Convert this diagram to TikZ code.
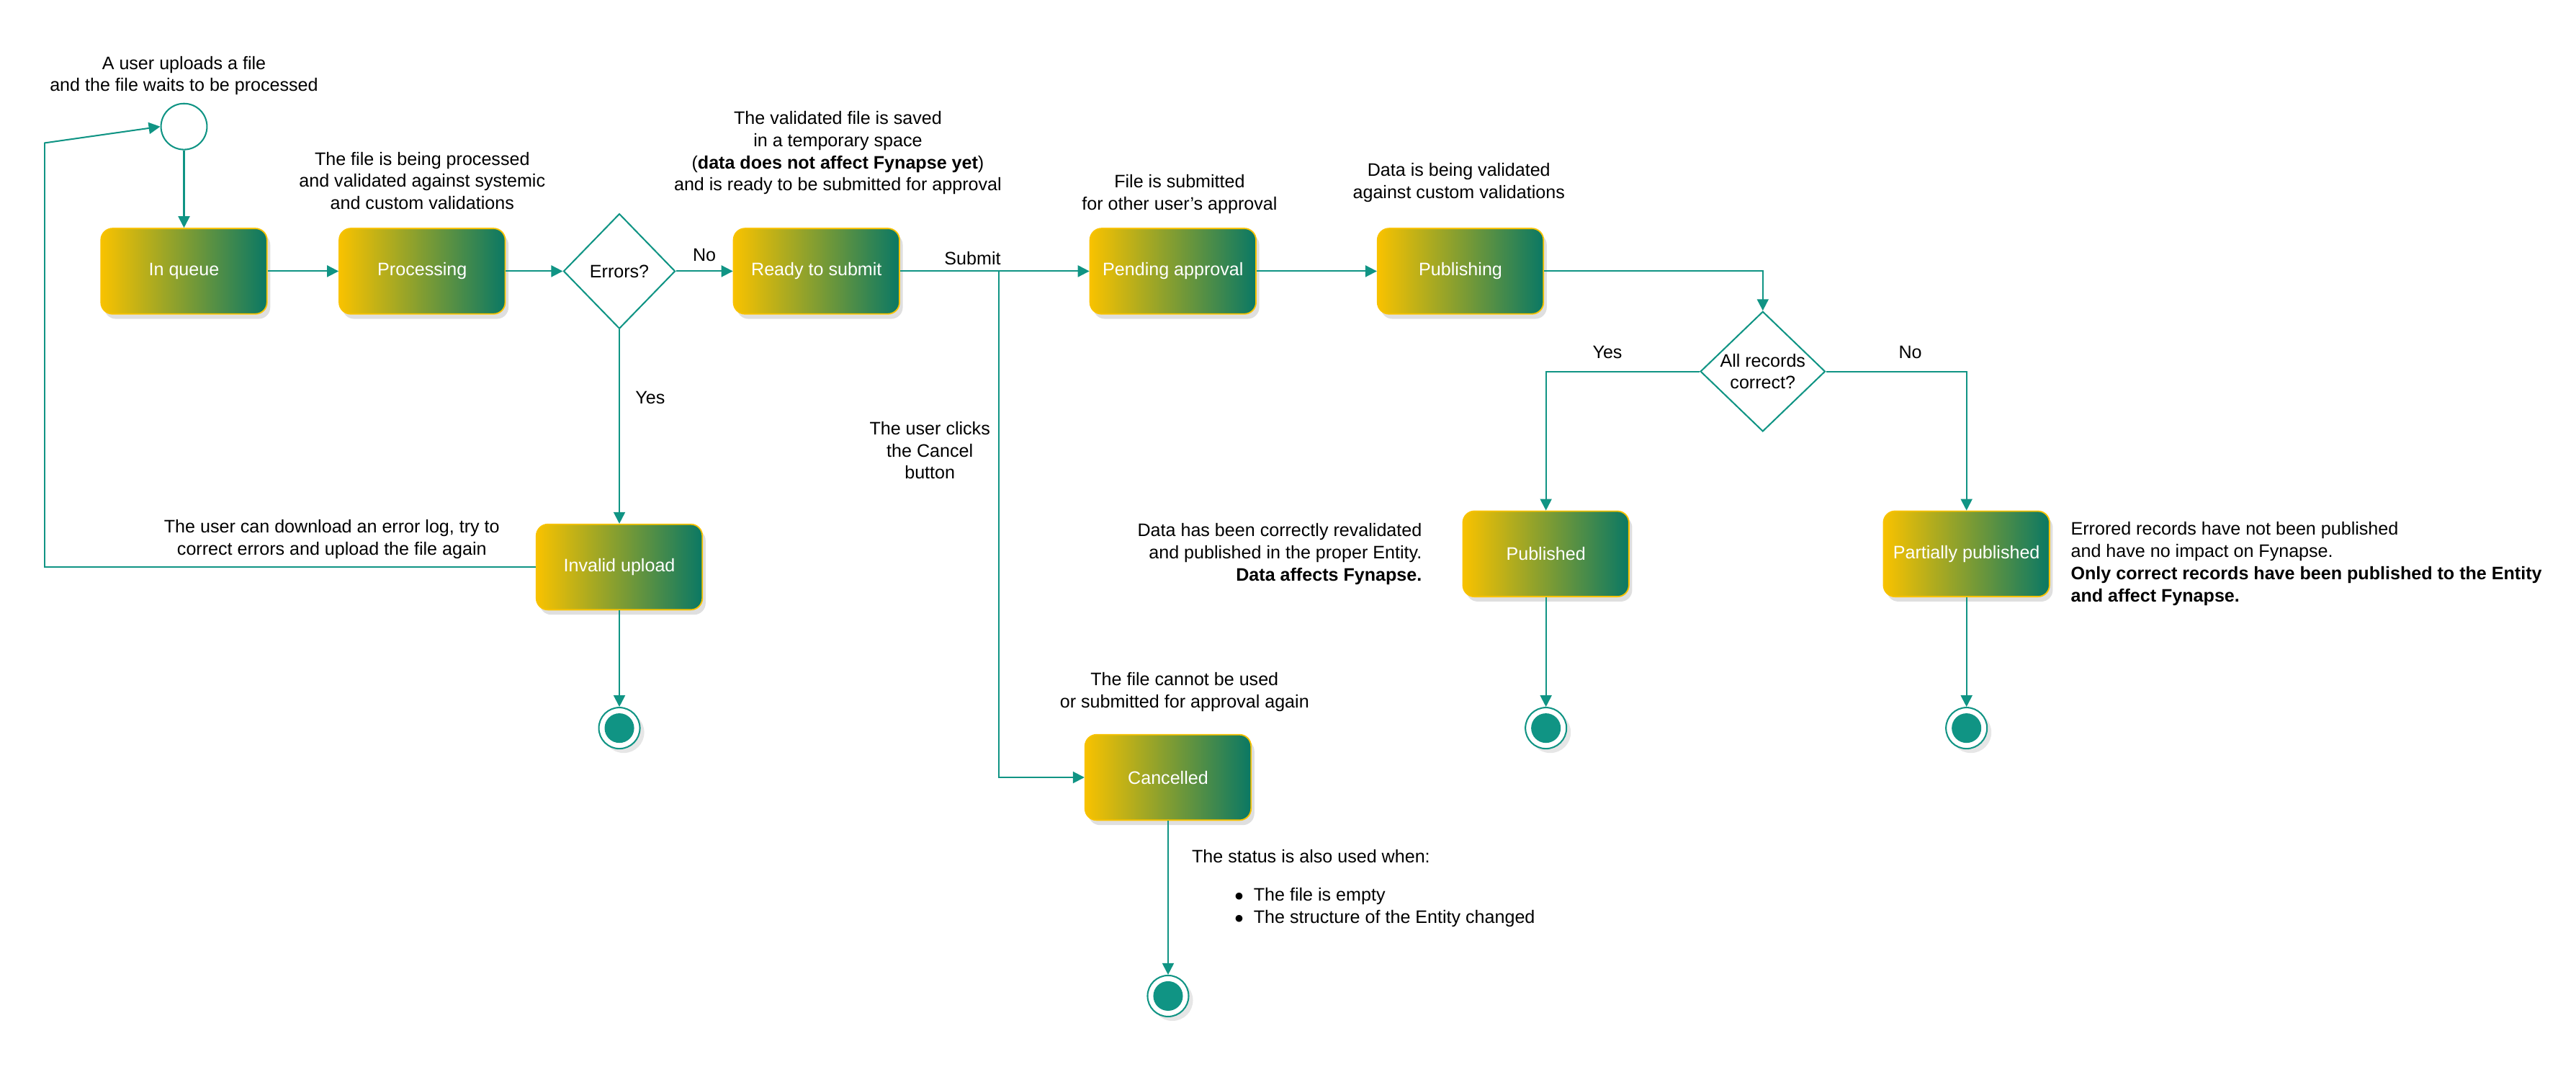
\documentclass[tikz,border=0pt]{standalone}
\usepackage{fontspec}
\setmainfont{Liberation Sans}
\usetikzlibrary{shapes.geometric,arrows.meta,shadows}
\definecolor{teal1}{RGB}{16,148,132}
\definecolor{gy}{RGB}{248,194,0}
\definecolor{gg}{RGB}{10,120,100}
\tikzset{
 stbox/.style={rounded corners=7pt,minimum width=101pt,minimum height=52pt,left color=gy,right color=gg,draw=gy,line width=0.8pt,text=white,font=\fontsize{11}{13}\selectfont,drop shadow={opacity=0.25,shadow xshift=2pt,shadow yshift=-3pt}},
 dec/.style={diamond,draw=teal1,fill=white,line width=0.9pt,inner sep=0pt,font=\fontsize{11}{13}\selectfont,align=center},
 fin/.style={circle,draw=teal1,fill=white,line width=0.9pt,minimum size=25pt,inner sep=0pt,path picture={\fill[teal1] (path picture bounding box.center) circle (9pt);},drop shadow={opacity=0.2}},
 note/.style={font=\fontsize{11}{13.5}\selectfont,align=center,text=black},
 conn/.style={draw=teal1,line width=0.9pt,-{Triangle[open,length=7pt,width=7pt,fill=teal1]}},
 ln/.style={draw=teal1,line width=0.9pt},
}
\begin{document}
\begin{tikzpicture}[x=1pt,y=-1pt]
\useasboundingbox (0,0) rectangle (1568,649);
\node[circle,draw=teal1,line width=0.9pt,minimum size=28pt,inner sep=0pt] (start) at (112,77) {};
\node[stbox] (q) at (112,165) {In queue};
\node[stbox] (p) at (257,165) {Processing};
\node[dec,minimum width=68pt,minimum height=70pt] (err) at (377,165) {Errors?};
\node[stbox] (r) at (497,165) {Ready to submit};
\node[stbox] (pa) at (714,165) {Pending approval};
\node[stbox] (pub) at (889,165) {Publishing};
\node[dec,minimum width=76pt,minimum height=68pt] (all) at (1073,226) {All records\\correct?};
\node[stbox] (pd) at (941,337) {Published};
\node[stbox] (pp) at (1197,337) {Partially published};
\node[stbox] (inv) at (377,345) {Invalid upload};
\node[stbox] (c) at (711,473) {Cancelled};
\node[fin] (e1) at (377,443) {};
\node[fin] (e2) at (941,443) {};
\node[fin] (e3) at (1197,443) {};
\node[fin] (e4) at (711,606) {};
\coordinate (sb) at (608,165);
\coordinate (lp1) at (27,345);
\coordinate (lp2) at (27,87);

\draw[conn] (start) -- (q);
\draw[conn] (q) -- (p);
\draw[conn] (p) -- (err);
\draw[conn] (err) -- node[note,above=2pt]{No} (r);
\draw[conn] (err) -- node[note,pos=0.35,right=6pt]{Yes} (inv);
\draw[conn] (r) -- (pa);
\draw[conn] (sb) |- (c);
\draw[conn] (pa) -- (pub);
\draw[conn] (pub) -| (all);
\draw[conn] (all.west) -| node[note,pos=0.3,above=4pt]{Yes} (pd);
\draw[conn] (all.east) -| node[note,pos=0.3,above=4pt]{No} (pp);
\draw[conn] (inv) -- (e1);
\draw[conn] (pd) -- (e2);
\draw[conn] (pp) -- (e3);
\draw[conn] (c) -- (e4);
\draw[ln] (inv.west) -- (lp1) -- (lp2);
\draw[conn] (lp2) -- (start.west);
\node[note] at (592,157) {Submit};

\node[note] at (112,46) {A user uploads a file\\and the file waits to be processed};
\node[note] at (257,110) {The file is being processed\\and validated against systemic\\and custom validations};
\node[note] at (510,93) {The validated file is saved\\in a temporary space\\(\textbf{data does not affect Fynapse yet})\\and is ready to be submitted for approval};
\node[note] at (718,118) {File is submitted\\for other user's approval};
\node[note] at (888,111) {Data is being validated\\against custom validations};
\node[note] at (566,274) {The user clicks\\the Cancel\\button};
\node[note] at (202,328) {The user can download an error log, try to\\correct errors and upload the file again};
\node[note] at (721,421) {The file cannot be used\\or submitted for approval again};
\node[note,align=right,anchor=east] at (869,337) {Data has been correctly revalidated\\and published in the proper Entity.\\\textbf{Data affects Fynapse.}};
\node[note,align=left,anchor=west] at (1257,343) {Errored records have not been published\\and have no impact on Fynapse.\\\textbf{Only correct records have been published to the Entity}\\\textbf{and affect Fynapse.}};
\node[note,anchor=west] at (722,521) {The status is also used when:};
\node[note,align=left,anchor=west] at (748,552) {$\bullet$\ \ The file is empty\\$\bullet$\ \ The structure of the Entity changed};
\end{tikzpicture}
\end{document}
